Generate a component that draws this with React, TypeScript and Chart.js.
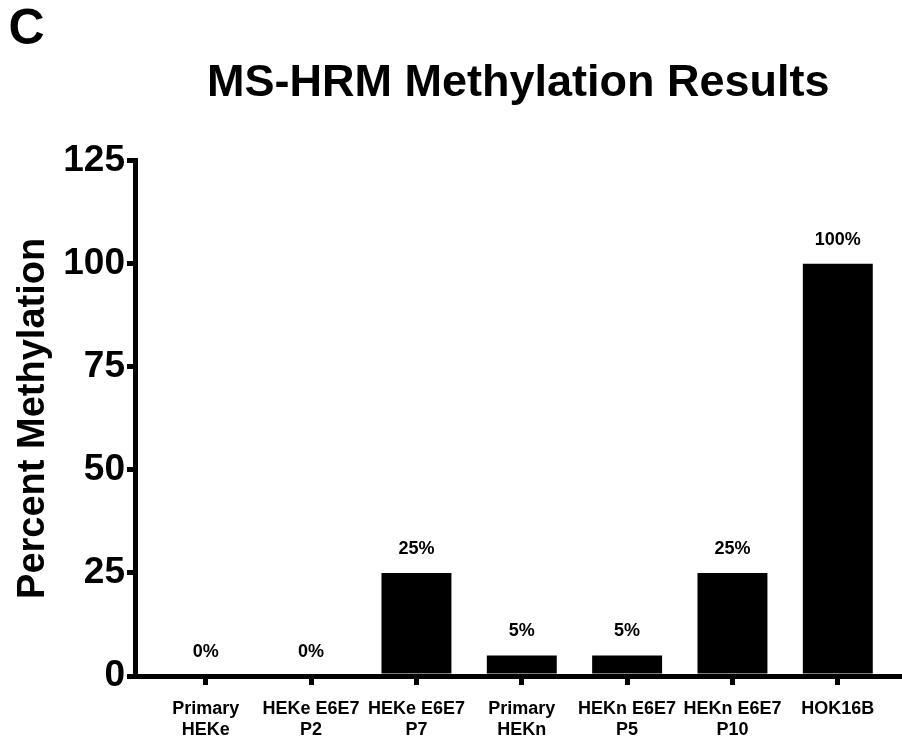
import React, { useEffect, useRef } from "react";
import { Chart, registerables } from "chart.js";

Chart.register(...registerables);

const categories: string[][] = [
  ["Primary", "HEKe"],
  ["HEKe E6E7", "P2"],
  ["HEKe E6E7", "P7"],
  ["Primary", "HEKn"],
  ["HEKn E6E7", "P5"],
  ["HEKn E6E7", "P10"],
  ["HOK16B"],
];
const methylation: number[] = [0, 0, 25, 5, 5, 25, 100];
const valueLabels: string[] = ["0%", "0%", "25%", "5%", "5%", "25%", "100%"];
const yTicks: number[] = [0, 25, 50, 75, 100, 125];

const FONT = "'Liberation Sans', Arial, Helvetica, sans-serif";

const barLabelPlugin = {
  id: "barLabels",
  afterDatasetsDraw(chart: any) {
    const ctx = chart.ctx;
    const meta = chart.getDatasetMeta(0);
    ctx.save();
    ctx.font = `bold 18px ${FONT}`;
    ctx.fillStyle = "#000";
    ctx.textAlign = "center";
    ctx.textBaseline = "alphabetic";
    meta.data.forEach((bar: any, i: number) => {
      ctx.fillText(valueLabels[i], bar.x, bar.y - 19);
    });
    ctx.restore();
  },
};

export default function App() {
  const canvasRef = useRef<HTMLCanvasElement | null>(null);

  useEffect(() => {
    if (!canvasRef.current) return;
    const chart = new Chart(canvasRef.current, {
      type: "bar",
      data: {
        datasets: [
          {
            data: methylation.map((v, i) => ({ x: i, y: v })),
            backgroundColor: "#000",
            borderWidth: 0,
            barPercentage: 0.83,
            categoryPercentage: 0.8,
          },
        ],
      },
      options: {
        responsive: false,
        animation: false,
        layout: { padding: { left: 8.5, right: 1, top: 3, bottom: 0 } },
        plugins: {
          legend: { display: false },
          tooltip: { enabled: false },
          title: {
            display: true,
            text: "C",
            align: "start",
            color: "#000",
            font: { family: FONT, size: 50, weight: "bold", lineHeight: 1.1 },
            padding: 0,
          },
          subtitle: {
            display: true,
            text: "MS-HRM Methylation Results",
            fullSize: false,
            color: "#000",
            font: { family: FONT, size: 45, weight: "bold", lineHeight: 1.15 },
            padding: { top: 0, bottom: 51 },
          },
        },
        scales: {
          x: {
            type: "linear",
            min: -0.667,
            max: 6.6,
            offset: false,
            afterBuildTicks: (scale: any) => {
              scale.ticks = categories.map((_, i) => ({ value: i }));
            },
            afterFit: (scale: any) => {
              scale.height = 64;
            },
            ticks: {
              autoSkip: false,
              maxRotation: 0,
              minRotation: 0,
              padding: 13,
              color: "#000",
              font: { family: FONT, size: 18, weight: "bold", lineHeight: 1.2 },
              callback: (_v: any, index: number) => categories[index],
            },
            grid: {
              display: true,
              offset: false,
              drawOnChartArea: false,
              drawTicks: true,
              tickLength: 9,
              lineWidth: 5,
              color: "#000",
            },
            border: { display: true, width: 5, color: "#000" },
          },
          y: {
            min: 0,
            max: 125,
            afterBuildTicks: (scale: any) => {
              scale.ticks = yTicks.map((v) => ({ value: v }));
            },
            afterFit: (scale: any) => {
              scale.width = 127;
            },
            ticks: {
              padding: 2,
              color: "#000",
              font: { family: FONT, size: 37, weight: "bold" },
            },
            grid: {
              display: true,
              offset: false,
              drawOnChartArea: false,
              drawTicks: true,
              tickLength: 8.5,
              lineWidth: 5,
              color: "#000",
            },
            border: { display: true, width: 5, color: "#000" },
            title: {
              display: true,
              text: "Percent Methylation",
              color: "#000",
              font: { family: FONT, size: 38, weight: "bold", lineHeight: 1.2 },
              padding: { top: 2, bottom: 0 },
            },
          },
        },
      } as any,
      plugins: [barLabelPlugin],
    });
    return () => chart.destroy();
  }, []);

  return (
    <div style={{ position: "absolute", left: 0, top: 0, width: 902, height: 740 }}>
      <canvas ref={canvasRef} width={902} height={740} style={{ display: "block" }} />
    </div>
  );
}
